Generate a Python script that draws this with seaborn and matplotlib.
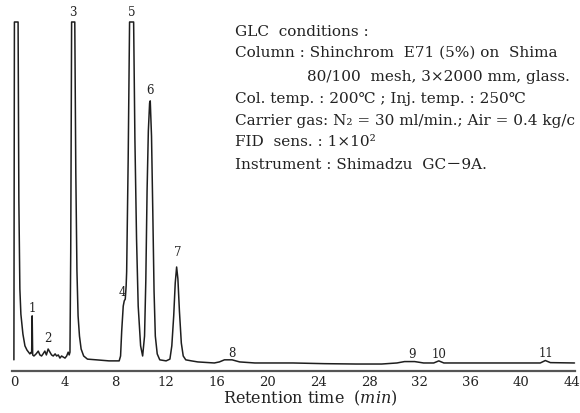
import matplotlib
matplotlib.use("Agg")
import matplotlib.pyplot as plt
import pandas as pd
import seaborn as sns

# chromatogram trace
# time in min, detector response in % of full scale (100 = pen at top of chart)
time_min = [
    0.00, 0.04, 0.33, 0.39, 0.47, 0.55, 0.71, 0.87, 1.03, 1.26, 1.38,
    1.40, 1.44, 1.48, 1.58, 1.75, 1.92, 2.05, 2.18, 2.30, 2.44, 2.56,
    2.70, 2.84, 2.97, 3.10, 3.25, 3.37, 3.50, 3.63, 3.76, 3.89, 4.03,
    4.16, 4.28, 4.36, 4.42, 4.48, 4.55, 4.80, 4.88, 4.97, 5.06, 5.17,
    5.30, 5.50, 5.80, 6.50, 7.50, 8.30, 8.41, 8.50, 8.62, 8.70, 8.78,
    8.85, 8.89, 9.01, 9.12, 9.44, 9.54, 9.67, 9.80, 9.99, 10.15, 10.30,
    10.40, 10.50, 10.60, 10.70, 10.75, 10.85, 10.95, 11.05, 11.15, 11.30,
    11.50, 12.00, 12.30, 12.45, 12.60, 12.72, 12.83, 12.93, 13.05, 13.20,
    13.35, 13.55, 14.00, 14.50, 15.80, 16.20, 16.60, 17.20, 17.80, 19.00,
    22.00, 24.50, 27.00, 29.00, 30.20, 30.80, 31.60, 32.30, 33.10, 33.50,
    33.90, 36.00, 41.50, 41.90, 42.30, 44.20,
]
response = [
    3.2, 100, 100, 49.0, 23.5, 16.3, 10.6, 7.2, 6.0, 4.9, 5.4,
    5.2, 15.8, 4.6, 4.3, 4.9, 5.7, 4.6, 4.3, 4.9, 5.7, 4.6,
    6.3, 5.4, 4.6, 4.3, 4.9, 4.3, 4.6, 3.7, 4.3, 4.0, 3.7,
    4.3, 5.4, 4.6, 5.4, 34.0, 100, 100, 57.0, 28.7, 15.8, 10.0,
    6.3, 4.3, 3.4, 3.2, 2.9, 2.9, 4.3, 11.5, 18.6, 20.1, 20.6,
    24.4, 28.4, 60.7, 100, 100, 66.5, 37.8, 18.6, 7.2, 4.3, 10.0,
    25.8, 51.6, 68.8, 76.8, 77.4, 67.3, 45.8, 22.9, 10.0, 4.9,
    3.2, 2.9, 3.4, 7.2, 15.8, 25.2, 29.8, 26.4, 17.2, 8.0,
    4.3, 3.2, 2.9, 2.6, 2.3, 2.6, 3.2, 3.2, 2.6, 2.3,
    2.3, 2.1, 2.0, 2.0, 2.3, 2.7, 2.7, 2.3, 2.3, 2.9,
    2.3, 2.3, 2.3, 3.0, 2.4, 2.3,
]

# peak numbers and where they are written
peak_labels = ["1", "2", "3", "4", "5", "6", "7", "8", "9", "10", "11"]
peak_label_t = [1.44, 2.70, 4.68, 8.54, 9.30, 10.73, 12.88, 17.2, 31.4, 33.5, 41.95]
peak_label_y = [18.3, 9.5, 102.9, 22.9, 102.9, 80.8, 34.1, 5.4, 4.9, 4.9, 5.4]

x_ticks = [0, 4, 8, 12, 16, 20, 24, 28, 32, 36, 40, 44]

# conditions box, as far as the page shows it (right side is cut in the source)
conditions = [
    ("GLC  conditions :", False),
    ("Column : Shinchrom  E71 (5%) on  Shima", False),
    ("80/100  mesh, 3×2000 mm, glass.", True),
    ("Col. temp. : 200℃ ; Inj. temp. : 250℃", False),
    ("Carrier gas: N₂ = 30 ml/min.; Air = 0.4 kg/c", False),
    ("FID  sens. : 1×10²", False),
    ("Instrument : Shimadzu  GC－9A.", False),
]

sns.set_theme(style="white")
plt.rcParams["font.family"] = ["DejaVu Serif", "DejaVu Sans", "Noto Sans CJK JP"]
plt.rcParams["mathtext.fontset"] = "dejavuserif"

df = pd.DataFrame({"Time": time_min, "Response": response})

fig = plt.figure(figsize=(5.8, 4.14), dpi=100)
ax = fig.add_axes([12 / 580, 42 / 414, 562.5 / 580, 349 / 414])

sns.lineplot(data=df, x="Time", y="Response", sort=False, estimator=None,
             color="#1e1e1e", linewidth=1.1, ax=ax, clip_on=False)

for lab, t, y in zip(peak_labels, peak_label_t, peak_label_y):
    ax.text(t, y, lab, ha="center", va="center", fontsize=8.5,
            color="#222222", clip_on=False)

ax.set_xlim(-0.15, 44.2)
ax.set_ylim(0, 100)
ax.set_xticks(x_ticks)
ax.set_yticks([])
ax.tick_params(axis="x", direction="in", length=3.5, width=1, color="#444444",
               labelsize=9.5, pad=3, labelcolor="#222222")
for side in ["left", "top", "right"]:
    ax.spines[side].set_visible(False)
ax.spines["bottom"].set_linewidth(1.6)
ax.spines["bottom"].set_color("#555555")

ax.set_xlabel("Retention time  ($\\it{min}$)", fontsize=11.5, color="#222222")
ax.xaxis.set_label_coords(0.53, -0.048)
ax.set_ylabel("")

line_y = [32, 53, 77, 99, 121, 142, 165]
for (txt, indent), py in zip(conditions, line_y):
    px = 307 if indent else 235
    fig.text(px / 580, 1 - py / 414, txt, ha="left", va="center",
             fontsize=11, color="#222222")

fig.savefig("out.png", dpi=100)
